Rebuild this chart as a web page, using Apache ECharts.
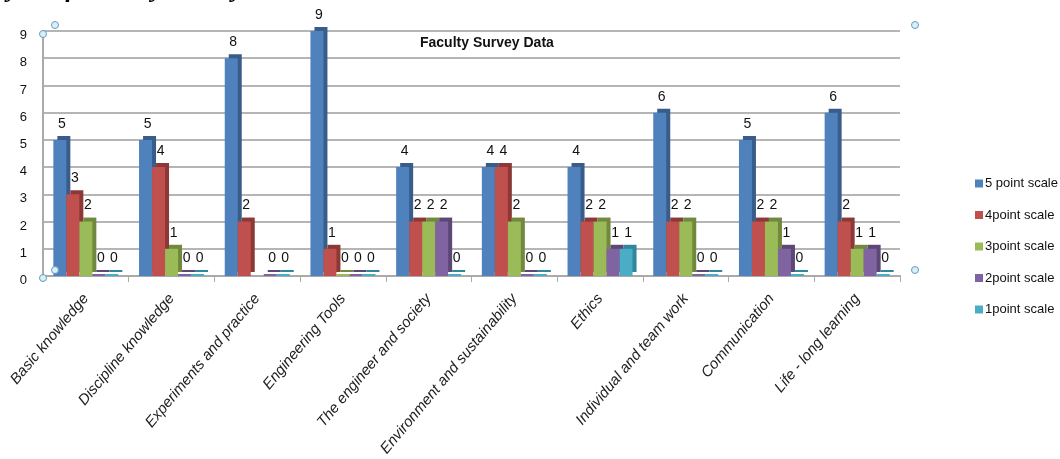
<!DOCTYPE html>
<html>
<head>
<meta charset="utf-8">
<script src="https://cdn.jsdelivr.net/npm/echarts@6/dist/echarts.min.js"></script>
<style>
  html, body { margin: 0; padding: 0; background: #fff; }
  #chart { width: 1060px; height: 459px; }
</style>
</head>
<body>
<div id="chart"></div>
<script>
// 数据
var categories = ['Basic knowledge', 'Discipline knowledge', 'Experiments and practice', 'Engineering Tools',
    'The engineer and society', 'Environment and sustainability', 'Ethics', 'Individual and team work',
    'Communication', 'Life - long learning'];
var seriesNames = ['5 point scale', '4point scale', '3point scale', '2point scale', '1point scale'];
var scale5 = [5, 5, 8, 9, 4, 4, 4, 6, 5, 6];
var scale4 = [3, 4, 2, 1, 2, 4, 2, 2, 2, 2];
var scale3 = [2, 1, null, 0, 2, 2, 2, 2, 2, 1];
var scale2 = [0, 0, 0, 0, 2, 0, 1, 0, 1, 1];
var scale1 = [0, 0, 0, 0, 0, 0, 1, 0, 0, 0];
var yTicks = [0, 1, 2, 3, 4, 5, 6, 7, 8, 9];

var colors = ['#4F81BD', '#C0504D', '#9BBB59', '#8064A2', '#4BACC6'];
var sideColors = ['#385D8A', '#8C3836', '#71893F', '#5C4776', '#31859C'];
var font = "'Liberation Sans', Arial, sans-serif";

var chart = echarts.init(document.getElementById('chart'));

function makeSeries(i, data) {
    return {
        name: seriesNames[i],
        type: 'bar',
        data: data,
        barWidth: 13,
        barGap: '0%',
        barMinHeight: 2,
        itemStyle: {
            color: colors[i],
            shadowColor: sideColors[i],
            shadowOffsetX: 4,
            shadowOffsetY: -4,
            shadowBlur: 0
        },
        label: {
            show: true,
            position: 'top',
            offset: [2, -4],
            color: '#111',
            fontSize: 14,
            fontFamily: font
        }
    };
}

// 选择手柄（装饰）
function handle(x, y) {
    return {
        type: 'circle',
        shape: { cx: x, cy: y, r: 3.5 },
        style: { fill: '#dceef6', stroke: '#5f9ec0', lineWidth: 1 },
        z: 100
    };
}

var option = {
    color: colors,
    animation: false,
    title: {
        text: 'Faculty Survey Data',
        left: 415,
        top: 31,
        textStyle: { fontSize: 14, fontWeight: 'bold', color: '#111', fontFamily: font }
    },
    legend: {
        orient: 'vertical',
        left: 970,
        top: 172,
        itemWidth: 8,
        itemHeight: 8,
        itemGap: 18.5,
        icon: 'rect',
        data: seriesNames,
        textStyle: { fontSize: 13, color: '#111', fontFamily: font, padding: [0, 0, 0, -3] }
    },
    grid: { left: 43, right: 160, top: 31, bottom: 183 },
    xAxis: {
        type: 'category',
        data: categories,
        axisLine: { show: true, lineStyle: { color: '#aaa', width: 2 } },
        axisTick: { show: true, length: 6, lineStyle: { color: '#aaa' } },
        axisLabel: {
            rotate: 50,
            interval: 0,
            fontStyle: 'italic',
            fontSize: 15,
            color: '#222',
            fontFamily: font,
            margin: 20
        }
    },
    yAxis: {
        type: 'value',
        min: 0,
        max: 9,
        interval: 1,
        axisLine: { show: true, lineStyle: { color: '#aaa', width: 2 } },
        axisTick: { show: false },
        axisLabel: {
            color: '#111', fontSize: 13, fontFamily: font, margin: 16,
            formatter: function (v) { return yTicks.indexOf(v) >= 0 ? '{t|' + v + '}' : ''; },
            rich: {
                t: { fontSize: 13, fontFamily: font, color: '#111', padding: [9, 0, 0, 0] }
            }
        },
        splitLine: { lineStyle: { color: '#b5b5b5', width: 2 } }
    },
    graphic: [{
        type: 'text',
        left: -45,
        top: -23,
        style: {
            text: 'Analysis of Faculty Survey Data',
            font: 'italic bold 26px "Liberation Serif", serif',
            fill: '#000'
        }
    },
        handle(43, 34), handle(55, 25), handle(43, 278), handle(55, 270),
        handle(915, 25), handle(915, 270)
    ],
    series: [
        makeSeries(0, scale5),
        makeSeries(1, scale4),
        makeSeries(2, scale3),
        makeSeries(3, scale2),
        makeSeries(4, scale1)
    ]
};

chart.setOption(option);
</script>
</body>
</html>
